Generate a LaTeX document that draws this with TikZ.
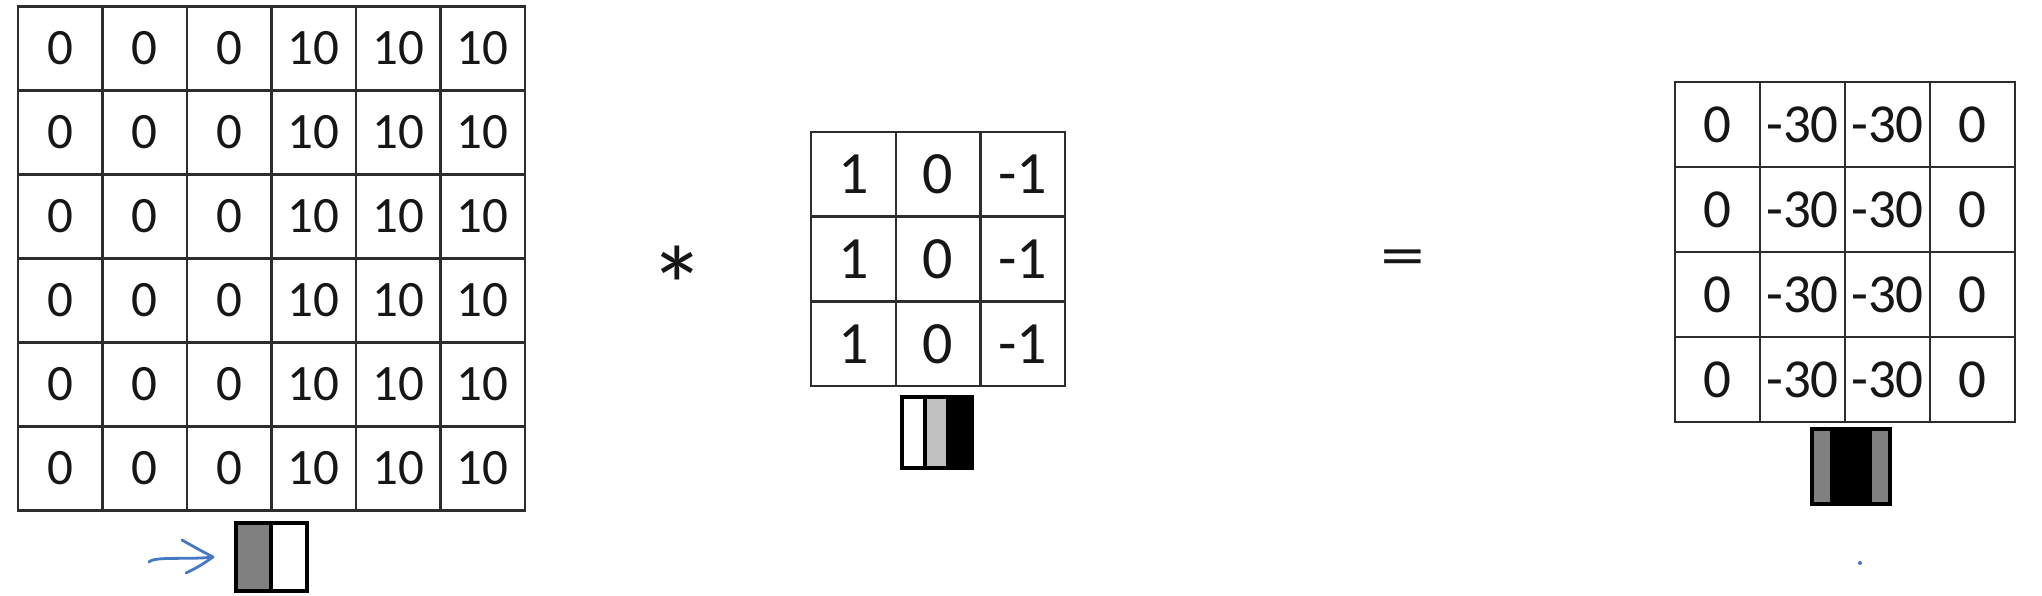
\documentclass[tikz,border=0pt]{standalone}
\usepackage{fontspec}
\setmainfont{Carlito}
\usetikzlibrary{arrows.meta}
\definecolor{gridc}{RGB}{45,45,45}
\definecolor{txt}{RGB}{22,22,22}
\definecolor{penblue}{RGB}{70,120,195}
\definecolor{midgray}{RGB}{128,128,128}
\definecolor{litegray}{RGB}{192,192,192}
\tikzset{
  cellbox/.style={draw=gridc, line width=2.4pt, inner sep=0pt, text=txt, anchor=center},
  incell/.style={cellbox, minimum width=84.5pt, minimum height=84pt, font=\fontsize{51}{51}\selectfont},
  fcell/.style={cellbox, minimum width=84.7pt, minimum height=84.7pt, font=\fontsize{60}{60}\selectfont},
  ocell/.style={cellbox, minimum width=85pt, minimum height=85pt, font=\fontsize{55}{55}\selectfont},
  iconbox/.style={draw=black, line width=4pt, inner sep=0pt, fill=white},
  opsym/.style={text=txt, inner sep=0pt},
  pen/.style={draw=penblue, line width=2.8pt, line cap=round, line join=round},
}
\begin{document}
\begin{tikzpicture}[x=1pt,y=-1pt]
\useasboundingbox (0,0) rectangle (2042,596);
% input 6x6
\foreach \r in {1,...,6}{
  \foreach \c/\v in {1/0,2/0,3/0,4/10,5/10,6/10}{
    \node[incell] (in-\r-\c) at ({18+84.5*(\c-0.5)},{6.5+84*(\r-0.5)}) {\v};
  }
}
% filter 3x3
\foreach \r in {1,2,3}{
  \foreach \c/\v in {1/1,2/0,3/-1}{
    \node[fcell] (f-\r-\c) at ({811+84.7*(\c-0.5)},{132+84.7*(\r-0.5)}) {\v};
  }
}
% output 4x4
\foreach \r in {1,...,4}{
  \foreach \c/\v in {1/0,2/-30,3/-30,4/0}{
    \node[ocell] (o-\r-\c) at ({1675+85*(\c-0.5)},{82+85*(\r-0.5)}) {\v};
  }
}
% operators
\node[opsym, anchor=base, font=\fontsize{112}{112}\selectfont] (ast) at (677,325) {*};
\node[opsym, anchor=base, font=\fontsize{62}{62}\selectfont] (eq) at (1403,276) {\scalebox{1.45}[1]{=}};
% icons
\node[iconbox, minimum width=71pt, minimum height=68pt,
  path picture={
    \fill[midgray] (path picture bounding box.north west) rectangle ([xshift=-1pt]path picture bounding box.south);
    \draw[black, line width=4pt] ([xshift=-1pt]path picture bounding box.north) -- ([xshift=-1pt]path picture bounding box.south);
  }] (inIcon) at (271.5,557) {};
\node[iconbox, minimum width=70pt, minimum height=71pt,
  path picture={
    \fill[litegray] ([xshift=24pt]path picture bounding box.north west) rectangle ([xshift=44pt]path picture bounding box.south west);
    \fill[black] ([xshift=44pt]path picture bounding box.north west) rectangle (path picture bounding box.south east);
    \draw[black, line width=4pt] ([xshift=23pt]path picture bounding box.north west) -- ([xshift=23pt]path picture bounding box.south west);
  }] (fIcon) at (937,432.5) {};
\node[iconbox, minimum width=78pt, minimum height=75pt,
  path picture={
    \fill[black] (path picture bounding box.north west) rectangle (path picture bounding box.south east);
    \fill[midgray] (path picture bounding box.north west) rectangle ([xshift=18pt]path picture bounding box.south west);
    \fill[midgray] ([xshift=-18pt]path picture bounding box.north east) rectangle (path picture bounding box.south east);
  }] (oIcon) at (1851,466.5) {};
% hand-drawn arrow
\coordinate (arrS) at (149,562);
\coordinate (arrE) at (213,557);
\coordinate (barbU) at (182,540);
\coordinate (barbL) at (186,573);
\draw[pen] (arrS) .. controls (154,556) and (190,560) .. (arrE);
\draw[pen] (barbU) .. controls (196,548) .. (arrE) .. controls (200,566) .. (barbL);
% small dot
\node[circle, fill=penblue, inner sep=0pt, minimum size=4pt] (dot) at (1860,563) {};
\end{tikzpicture}
\end{document}
